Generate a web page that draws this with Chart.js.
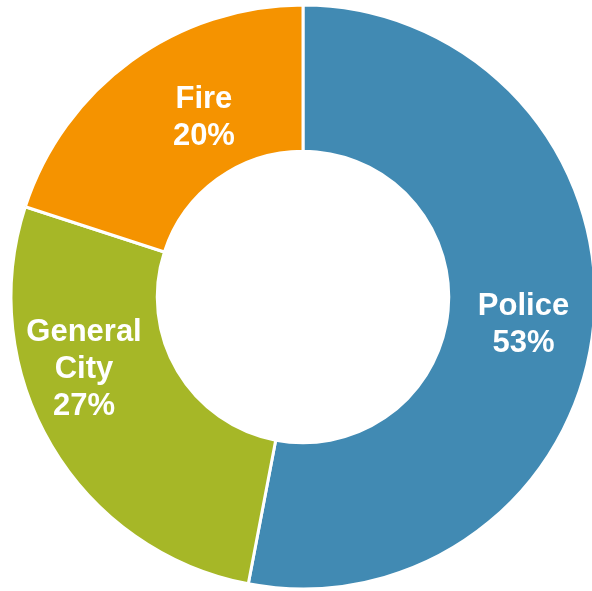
<!DOCTYPE html>
<html lang="en">
<head>
  <meta charset="UTF-8">
  <title>Budget share doughnut</title>
  <script src="https://cdn.jsdelivr.net/npm/chart.js"></script>
  <style>
    html, body { margin: 0; padding: 0; background: #fff; overflow: hidden; }
    body { width: 592px; height: 591px; position: relative; }
    /* canvas is centred on the doughnut centre (303, 297) */
    .chart-box { position: absolute; left: 3px; top: -3px; width: 600px; height: 600px; }
  </style>
</head>
<body>
  <div class="chart-box"><canvas id="pie" width="600" height="600"></canvas></div>

  <script>
    // Data
    const categories = ['Police', 'General City', 'Fire'];
    const shares = [53, 27, 20];
    const labelLines = [['Police', '53%'], ['General', 'City', '27%'], ['Fire', '20%']];
    const sliceColors = ['#418AB3', '#A6B727', '#F59300'];

    // label placement: distance from centre and small angle nudge (degrees)
    const labelRadius = [222, 230, 207];
    const labelNudge = [1.2, 12.8, 7.4];

    const sliceLabels = {
      id: 'sliceLabels',
      afterDatasetsDraw(chart) {
        const ctx = chart.ctx;
        const meta = chart.getDatasetMeta(0);
        const fs = 31, lh = 37;
        ctx.save();
        ctx.fillStyle = '#fff';
        ctx.font = 'bold ' + fs + 'px "Liberation Sans", Arial, sans-serif';
        ctx.textAlign = 'center';
        ctx.textBaseline = 'alphabetic';
        meta.data.forEach((arc, i) => {
          const p = arc.getProps(['x', 'y', 'startAngle', 'endAngle'], true);
          const mid = (p.startAngle + p.endAngle) / 2 + labelNudge[i] * Math.PI / 180;
          const cx = p.x + Math.cos(mid) * labelRadius[i];
          const cy = p.y + Math.sin(mid) * labelRadius[i];
          const lines = labelLines[i];
          const first = cy - ((lines.length - 1) * lh - 0.716 * fs) / 2;
          lines.forEach((t, k) => {
            ctx.fillText(t, cx, first + k * lh);
          });
        });
        ctx.restore();
      }
    };

    new Chart(document.getElementById('pie'), {
      type: 'doughnut',
      data: {
        labels: categories,
        datasets: [{
          data: shares,
          backgroundColor: sliceColors,
          borderColor: '#fff',
          borderWidth: 3
        }]
      },
      options: {
        responsive: false,
        animation: false,
        radius: 292,
        cutout: 149,
        layout: { padding: 0 },
        plugins: {
          legend: { display: false },
          tooltip: { enabled: false }
        }
      },
      plugins: [sliceLabels]
    });
  </script>
</body>
</html>
